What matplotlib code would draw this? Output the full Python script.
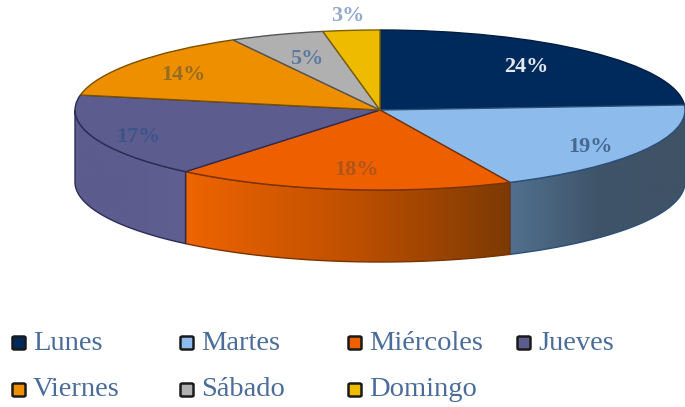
import numpy as np
import matplotlib
matplotlib.use("Agg")
import matplotlib.pyplot as plt
from matplotlib.colors import LinearSegmentedColormap
from matplotlib.patches import Polygon, FancyBboxPatch

days = ["Lunes", "Martes", "Miércoles", "Jueves", "Viernes", "Sábado", "Domingo"]
shares = [24, 19, 18, 17, 14, 5, 3]
top_colors = ["#002a5c", "#8dbcec", "#ee5f00", "#5c5c8e", "#ee8f00", "#b0b0b0", "#eebb00"]
edge_colors = ["#001c40", "#2c4f78", "#7a3300", "#2c2c58", "#7a5000", "#555555", "#7a6000"]
side_left = ["#002a5c", "#51708f", "#ee6400", "#5c5c8e", "#ee8f00", "#b0b0b0", "#eebb00"]
side_mid = ["#002a5c", "#3f5469", "#c05000", "#5c5c8e", "#ee8f00", "#b0b0b0", "#eebb00"]
side_right = ["#002a5c", "#3f5266", "#7c3a04", "#5f5f92", "#ee8f00", "#b0b0b0", "#eebb00"]
label_colors = ["#ffffff", "#3f6088", "#a8541c", "#3a5488", "#8c6a24", "#54749c", "#8aa0c4"]
label_px = [(526, 67), (590, 147), (356, 170), (138, 137), (183, 75), (307, 59), (348, 16)]
legend_px = [(19, 343), (187, 343), (355, 343), (524, 343), (19, 390), (187, 390), (355, 390)]

W, H = 685, 407
CX, CY, RX, RY, DEPTH = 380, 110, 305, 80, 72

plt.rcParams["font.family"] = ["Liberation Serif", "DejaVu Serif"]
fig = plt.figure(figsize=(W / 100, H / 100), dpi=100, facecolor="white")
ax = fig.add_axes([(CX - RX) / W, 1 - (CY + RY) / H, 2 * RX / W, 2 * RY / H])


def X(px):
    return (px - CX) / RX


def Y(py):
    return (CY - py) / RY


wedges, _, autotexts = ax.pie(
    shares, startangle=90, counterclock=False, radius=1, center=(0, 0),
    colors=top_colors, autopct="%d%%",
    wedgeprops={"linewidth": 1.0, "zorder": 3},
)
drop = DEPTH / RY
edges = np.cumsum([0] + shares) / sum(shares) * 360.0  # clockwise from the top

for i, (w, at) in enumerate(zip(wedges, autotexts)):
    w.set_edgecolor(edge_colors[i])
    w.set_clip_on(False)
    at.set_position((X(label_px[i][0]), Y(label_px[i][1])))
    at.set_color(label_colors[i])
    at.set_fontsize(16)
    at.set_fontweight("bold")
    at.set_alpha(0.9)
    at.set_zorder(6)

    a0, a1 = max(edges[i], 90.0), min(edges[i + 1], 270.0)
    if a1 <= a0:
        continue
    t = np.radians(np.linspace(a0, a1, 120))
    xs, ys = np.sin(t), np.cos(t)
    poly = np.r_[np.c_[xs, ys], np.c_[xs[::-1], ys[::-1] - drop]]
    patch = Polygon(poly, closed=True, transform=ax.transData, fc="none", ec="none",
                    clip_on=False)
    ax.add_patch(patch)
    lo, hi = xs.min(), xs.max()
    cmap = LinearSegmentedColormap.from_list("s", [side_left[i], side_mid[i], side_right[i]])
    im = ax.imshow(np.linspace(0, 1, 256)[None, :], cmap=cmap, aspect="auto",
                   extent=(lo, hi, ys.min() - drop, ys.max()), zorder=1)
    im.set_clip_box(fig.bbox)
    im.set_clip_path(patch)
    ax.add_patch(Polygon(poly, closed=True, fc="none", ec=edge_colors[i], lw=1.0,
                         zorder=2, clip_on=False))

ax.set_xlim(-1, 1)
ax.set_ylim(-1, 1)
ax.set_aspect("auto")
ax.set_axis_off()

for name, color, (px, py) in zip(days, top_colors, legend_px):
    fig.add_artist(FancyBboxPatch(
        ((px - 6.5) / W, 1 - (py + 6.5) / H), 13 / W, 13 / H,
        boxstyle="round,pad=0,rounding_size=0.003", transform=fig.transFigure,
        fc=color, ec="#1a1a1a", lw=1.8))
    fig.text((px + 14) / W, 1 - py / H, name, fontsize=20.5, color="#4a6c9a",
             ha="left", va="center")

fig.savefig("out.png", dpi=100)
